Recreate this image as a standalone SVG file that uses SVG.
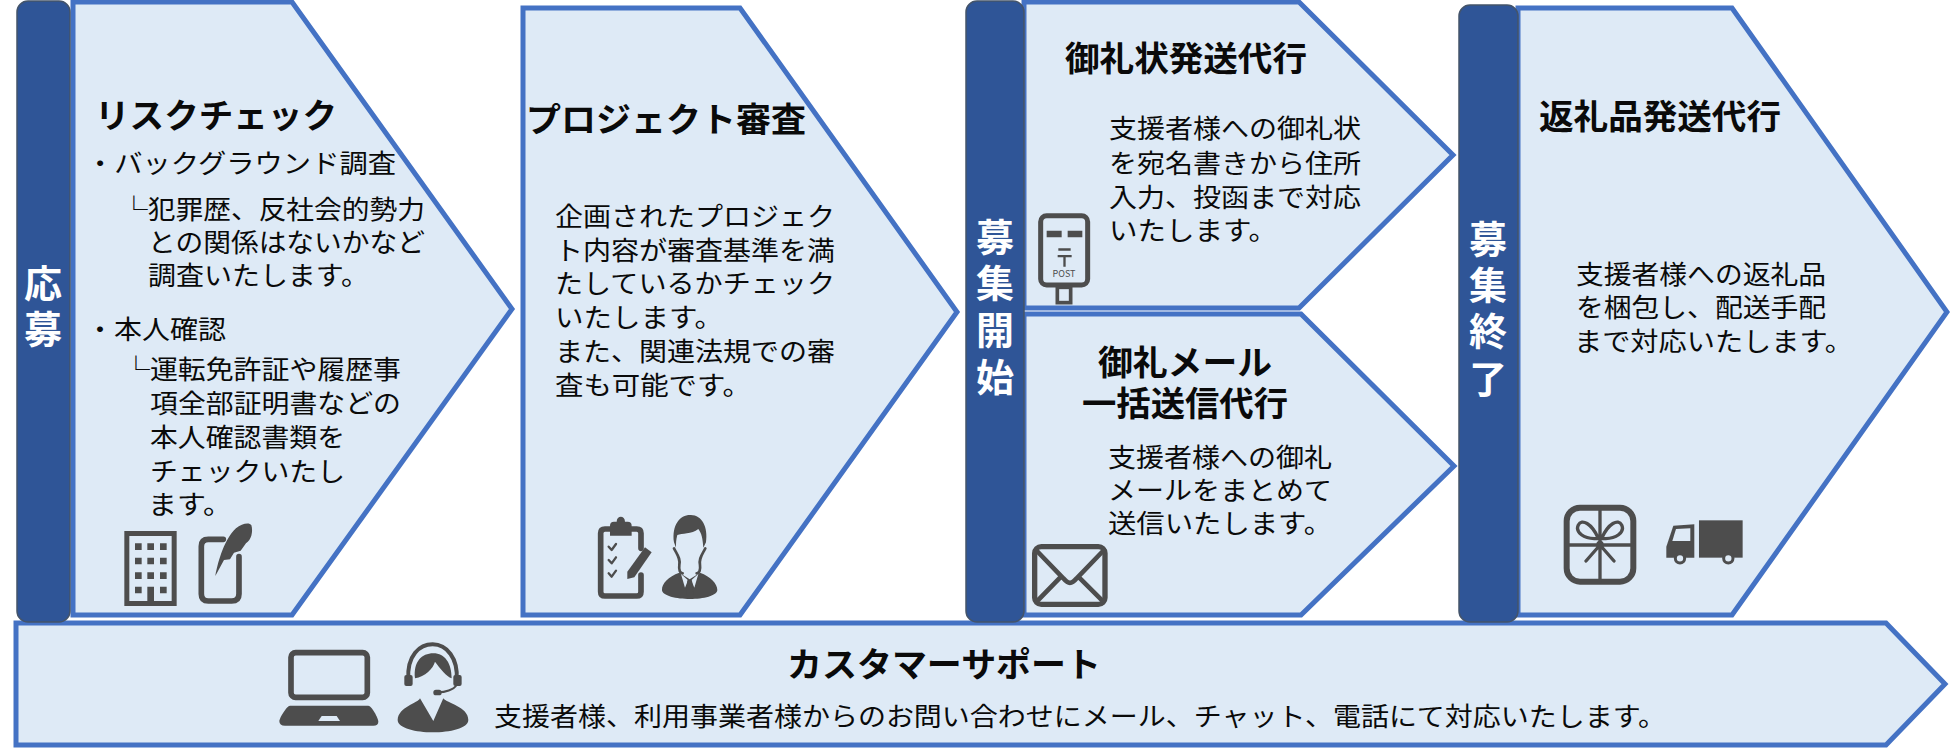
<svg xmlns="http://www.w3.org/2000/svg" width="1950" height="750" viewBox="0 0 1950 750">
<style>
text{font-family:"Noto Sans CJK JP","Noto Sans",sans-serif;fill:#0a0a0a}
.b{font-size:26px}
.t{font-size:34px;font-weight:700}
.v{font-size:38px;font-weight:700;fill:#fff;text-anchor:middle}
.p{fill:#deeaf6;stroke:#4472c4;stroke-width:5}
.bar{fill:#2f5597;stroke:#44546a;stroke-width:1.5}
.i{fill:#4d4d4d;stroke:none}
.l{fill:#deeaf6;stroke:none}
.o{fill:none;stroke:#4d4d4d;stroke-linecap:round;stroke-linejoin:round}
</style>
<g id="support">
<polygon class="p" points="16,623 1886,623 1945,684 1886,745 16,745"/>
<text class="t" x="787" y="677" textLength="314" lengthAdjust="spacingAndGlyphs">カスタマーサポート</text>
<text class="b" x="494" y="726" textLength="1172" lengthAdjust="spacingAndGlyphs">支援者様、利用事業者様からのお問い合わせにメール、チャット、電話にて対応いたします。</text>
<g transform="translate(270,635) scale(.3333)">
<rect x="63" y="53" width="229" height="134" rx="14" fill="none" stroke="#4d4d4d" stroke-width="17"/>
<path class="i" d="M60 212L295 212C305 212 325 250 325 260Q325 272 310 272L45 272Q28 272 28 258C28 250 50 212 60 212Z"/>
<path class="l" d="M155 243L200 243L210 258L145 258Z"/>
<path class="o" stroke-width="12" d="M415 135C410 60 450 28 488 28C530 28 565 70 560 135"/>
<rect class="i" x="403" y="120" width="25" height="33" rx="6"/>
<rect class="i" x="550" y="120" width="25" height="33" rx="6"/>
<path class="o" stroke-width="6" d="M560 150C550 165 525 172 505 172"/>
<rect class="i" x="490" y="164" width="25" height="17" rx="8"/>
<path class="i" d="M435 130C430 80 455 55 490 55C525 55 545 85 545 130C530 125 510 100 495 80C490 100 465 125 435 130Z"/>
<path class="i" d="M450 190C445 205 385 215 383 255C383 280 440 292 488 292C540 292 595 280 595 255C595 215 530 205 520 190L490 258Z"/>
</g>
</g>
<g id="risk">
<polygon class="p" points="73,2 292,2 512,309 292,615 73,615"/>
<text class="t" x="95" y="128" textLength="242" lengthAdjust="spacingAndGlyphs">リスクチェック</text>
<text class="b"><tspan x="86" y="173" textLength="310" lengthAdjust="spacingAndGlyphs">・バックグラウンド調査</tspan><tspan x="120" y="219" textLength="305" lengthAdjust="spacingAndGlyphs">└犯罪歴、反社会的勢力</tspan><tspan x="148" y="252" textLength="277" lengthAdjust="spacingAndGlyphs">との関係はないかなど</tspan><tspan x="148" y="285" textLength="221" lengthAdjust="spacingAndGlyphs">調査いたします。</tspan><tspan x="86" y="339" textLength="140" lengthAdjust="spacingAndGlyphs">・本人確認</tspan><tspan x="122" y="379" textLength="279" lengthAdjust="spacingAndGlyphs">└運転免許証や履歴事</tspan><tspan x="150" y="413" textLength="251" lengthAdjust="spacingAndGlyphs">項全部証明書などの</tspan><tspan x="150" y="447" textLength="195" lengthAdjust="spacingAndGlyphs">本人確認書類を</tspan><tspan x="150" y="481" textLength="195" lengthAdjust="spacingAndGlyphs">チェックいたし</tspan><tspan x="148" y="514" textLength="84" lengthAdjust="spacingAndGlyphs">ます。</tspan></text>
<g transform="translate(110,510) scale(.3333)">
<path class="i" fill-rule="evenodd" d="M43 63H200V288H43ZM58 78V273H112V230H132V273H185V78Z"/>
<path class="i" d="M75 100h20v20h-20zM112 100h20v20h-20zM150 100h20v20h-20zM75 143h20v20h-20zM112 143h20v20h-20zM150 143h20v20h-20zM75 187h20v20h-20zM112 187h20v20h-20zM150 187h20v20h-20zM75 230h20v20h-20zM150 230h20v20h-20z"/>
<path class="o" stroke-width="17" d="M340 88H295Q274 88 274 109V252Q274 273 295 273H365Q387 273 387 252V140"/>
<path class="i" d="M316 198C325 150 345 85 378 55C395 40 418 36 424 45C430 65 424 90 408 100L392 122L372 128L360 148L342 150Z"/>
</g>
</g>
<g id="review">
<polygon class="p" points="523,8 740,8 957,312 740,615 523,615"/>
<text class="t" x="526" y="132" textLength="280" lengthAdjust="spacingAndGlyphs">プロジェクト審査</text>
<text class="b"><tspan x="555" y="226" textLength="280" lengthAdjust="spacingAndGlyphs">企画されたプロジェク</tspan><tspan x="555" y="260" textLength="280" lengthAdjust="spacingAndGlyphs">ト内容が審査基準を満</tspan><tspan x="555" y="293" textLength="280" lengthAdjust="spacingAndGlyphs">たしているかチェック</tspan><tspan x="555" y="327" textLength="168" lengthAdjust="spacingAndGlyphs">いたします。</tspan><tspan x="555" y="361" textLength="280" lengthAdjust="spacingAndGlyphs">また、関連法規での審</tspan><tspan x="555" y="395" textLength="196" lengthAdjust="spacingAndGlyphs">査も可能です。</tspan></text>
<g transform="translate(590,505) scale(.3333)">
<path class="o" stroke-width="17" d="M60 72H45Q32 72 32 85V260Q32 273 45 273H140Q153 273 153 260V210M153 130V85Q153 72 140 72H125"/>
<path class="i" d="M60 92V62Q60 50 72 50H80C80 30 105 30 105 50H113Q125 50 125 62V92Z"/>
<path class="o" stroke-width="7" d="M56 125L65 135L78 117M56 165L65 175L78 157M56 205L65 215L78 197"/>
<path class="i" d="M112 200L165 127L185 142L133 217L112 222Z"/>
<path class="i" d="M252 112C245 60 270 30 300 30C335 28 355 65 348 112L340 128C338 100 335 85 325 72C305 88 275 85 262 90C258 105 258 115 258 128Z"/>
<path class="o" stroke-width="8" d="M252 130C262 150 272 160 268 180C266 195 270 205 278 205M346 130C336 150 326 160 330 180C332 195 328 205 320 205"/>
<path class="i" d="M268 203C235 215 215 235 216 255C216 272 260 282 300 282C340 282 382 272 382 255C382 235 362 215 330 203L299 223Z"/>
<path class="l" d="M273 207L294 226L285 248ZM325 207L304 226L313 248Z"/>
<path class="i" d="M292 226H306L310 270H288Z"/>
</g>
</g>
<g id="letter">
<polygon class="p" points="1024,2 1299,2 1453,155 1299,308 1024,308"/>
<text class="t" x="1065" y="71" textLength="242" lengthAdjust="spacingAndGlyphs">御礼状発送代行</text>
<text class="b"><tspan x="1109" y="138" textLength="252" lengthAdjust="spacingAndGlyphs">支援者様への御礼状</tspan><tspan x="1109" y="173" textLength="252" lengthAdjust="spacingAndGlyphs">を宛名書きから住所</tspan><tspan x="1109" y="207" textLength="252" lengthAdjust="spacingAndGlyphs">入力、投函まで対応</tspan><tspan x="1109" y="240" textLength="168" lengthAdjust="spacingAndGlyphs">いたします。</tspan></text>
<g transform="translate(1020,200) scale(.3333)">
<rect x="62" y="47" width="141" height="208" rx="18" fill="none" stroke="#4d4d4d" stroke-width="15"/>
<path class="i" d="M80 92h45v20h-45zM143 92h44v20h-44zM115 145h37v7h-37zM113 165h42v7h-42zM130 165h7v35h-7z"/>
<rect x="112" y="262" width="40" height="46" fill="none" stroke="#4d4d4d" stroke-width="11"/>
</g>
<text x="1064" y="277" font-size="9" text-anchor="middle" style="fill:#4d4d4d">POST</text>
</g>
<g id="mail">
<polygon class="p" points="1024,314 1301,314 1454,466 1301,615 1024,615"/>
<text class="t"><tspan x="1098" y="375" textLength="174" lengthAdjust="spacingAndGlyphs">御礼メール</tspan><tspan x="1082" y="416" textLength="206" lengthAdjust="spacingAndGlyphs">一括送信代行</tspan></text>
<text class="b"><tspan x="1108" y="467" textLength="224" lengthAdjust="spacingAndGlyphs">支援者様への御礼</tspan><tspan x="1108" y="500" textLength="224" lengthAdjust="spacingAndGlyphs">メールをまとめて</tspan><tspan x="1108" y="533" textLength="224" lengthAdjust="spacingAndGlyphs">送信いたします。</tspan></text>
<g transform="translate(1020,535) scale(.3333)">
<rect x="44" y="35" width="211" height="173" rx="20" fill="none" stroke="#4d4d4d" stroke-width="16"/>
<path class="o" stroke-width="14" d="M48 45L130 130C145 148 155 148 170 130L252 45M50 200L118 130M250 200L180 130"/>
</g>
</g>
<g id="gift">
<polygon class="p" points="1518,8 1732,8 1947,312 1732,615 1518,615"/>
<text class="t" x="1539" y="129" textLength="242" lengthAdjust="spacingAndGlyphs">返礼品発送代行</text>
<text class="b"><tspan x="1576" y="284" textLength="250" lengthAdjust="spacingAndGlyphs">支援者様への返礼品</tspan><tspan x="1576" y="317" textLength="250" lengthAdjust="spacingAndGlyphs">を梱包し、配送手配</tspan><tspan x="1574" y="351" textLength="279" lengthAdjust="spacingAndGlyphs">まで対応いたします。</tspan></text>
<g transform="translate(1550,495) scale(.3333)">
<rect x="50" y="38" width="200" height="222" rx="40" fill="none" stroke="#4d4d4d" stroke-width="18"/>
<path class="o" stroke-width="10" d="M150 38V260M50 150H250M145 130C100 135 75 110 85 90C95 70 125 85 145 130ZM155 130C200 135 225 110 215 90C205 70 175 85 155 130ZM150 150L108 198M150 150L192 198"/>
<circle class="i" cx="150" cy="148" r="11"/>
<rect class="i" x="447" y="76" width="131" height="112"/>
<path class="i" d="M349 188V155L370 92L433 88V188Z"/>
<path class="l" d="M378 102L421 100V138H367Z"/>
<circle cx="390" cy="190" r="14" fill="#deeaf6" stroke="#4d4d4d" stroke-width="9"/>
<circle cx="535" cy="190" r="14" fill="#deeaf6" stroke="#4d4d4d" stroke-width="9"/>
</g>
</g>
<g id="apply">
<rect class="bar" x="17" y="1" width="53" height="621" rx="11"/>
<text class="v"><tspan x="43" y="297">応</tspan><tspan x="43" y="343">募</tspan></text>
</g>
<g id="start">
<rect class="bar" x="966" y="1" width="58" height="621" rx="11"/>
<text class="v"><tspan x="995" y="251">募</tspan><tspan x="995" y="297">集</tspan><tspan x="995" y="344">開</tspan><tspan x="995" y="391">始</tspan></text>
</g>
<g id="end">
<rect class="bar" x="1459" y="5" width="59" height="617" rx="11"/>
<text class="v"><tspan x="1488" y="253">募</tspan><tspan x="1488" y="299">集</tspan><tspan x="1488" y="345">終</tspan><tspan x="1488" y="393">了</tspan></text>
</g>
<g id="connectors"></g>
</svg>
